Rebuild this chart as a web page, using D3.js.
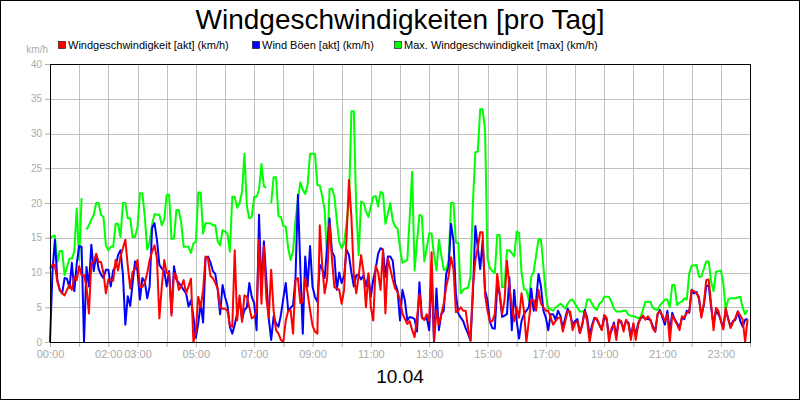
<!DOCTYPE html>
<html>
<head>
<meta charset="utf-8">
<script src="https://cdn.jsdelivr.net/npm/d3@7"></script>
<style>
  body { margin: 0; background: #fff; }
  text { font-family: "Liberation Sans", Arial, sans-serif; }
</style>
</head>
<body>
<div id="chart"></div>
<script>
// labelled hours on the x axis (ticks are drawn every hour)
var hourLabels = [0, 2, 3, 5, 7, 9, 11, 13, 15, 17, 19, 21, 23];
var yTicks = [0, 5, 10, 15, 20, 25, 30, 35, 40];
var dayLabel = "10.04";
var stepMinutes = 5;

// one value every 5 minutes, one row per hour
var windAkt = [
  10.5,11.1,11.1,8.7,7.5,7,6.7,7.5,8.2,7.5,9.4,8.9,
  10.9,9.6,9.6,8,4.1,11.3,11.5,12.7,11.5,11.5,9.9,7,
  9,8.9,8.8,11.8,10.3,12.3,13.5,14.7,11,7.7,10.1,10.5,
  11.8,7.9,7.9,8.5,9.9,11.8,13,13.9,12,3.4,8,11.8,
  9.9,10,3.8,9.9,9.5,7.5,8,8.9,7,8,9.1,0,
  1.5,6.5,5,7.5,12.3,12,9.5,9.2,8.5,7.7,5,4.8,
  4.8,4.5,2.4,2.2,13.2,3.1,6.7,2.9,6.7,6.5,5,3.4,
  3.6,4.5,14.7,5.5,13.8,6.3,3.5,10.4,4.5,1.7,1.2,0.3,
  0,3.1,4.5,4.6,1.2,8.9,9.2,5.6,5.8,9.2,7,4.6,
  2.4,1.5,1.2,16.8,11,7,9,17,12,7.9,7.7,7.5,
  5.5,7.5,15,23.3,18,9.6,7,9.5,12.5,10,5,9.9,
  5,3.1,11,10,7.5,13.3,4.1,12,10.5,9,7.7,7.2,
  6,4.1,3.3,2.6,3,1.7,0.7,3.5,6.9,3.6,3.2,4,
  3,12.9,0.2,4.5,2.5,4,5.5,7.9,9.5,12.2,10.5,4.3,
  4.5,5,4.5,4.5,2,0.2,8,11.7,13.6,15.8,15.8,6.7,
  4.5,2.9,3,4,9.8,7,4,6,11.7,8,5,3,
  5,3.5,7,4.5,0,3,6,6,4.5,7.5,5.5,5,
  4.5,4.5,3.5,2.5,3,3.5,3.5,1.5,3,4.5,4.4,1.7,
  2.7,3,1.3,2.5,4.4,3,0,2,3.4,3.4,2.5,1.7,
  3.9,3.5,0,2,2.5,0.3,3.2,3,1.5,3.2,2.5,0.3,
  2.7,0.3,2.5,3.5,3.8,3.2,3.7,3.2,2,1.5,4.1,4.4,
  3.8,3,4,0,3.8,3.2,2.5,1.7,3.7,3.5,4.2,4.4,
  7.5,7.3,7,6.5,3.5,5.5,8.9,9,5.5,1.7,4.9,4.5,
  3,1.8,4.9,3.3,2,2.8,3.5,4.4,3.8,3.2,0,3.3
];

var windBoeen = [
  0,10,14.7,9,7.5,7,9.2,9.1,7.8,11.4,7.3,11.3,
  13.8,13.7,0,10.8,8,14,10.2,12.6,10.5,9.7,9.2,10.4,
  10.4,8,10.3,10.9,12.5,13.2,9.7,2.5,6.6,5.2,8.5,11.6,
  10.2,6.1,9.2,8.7,6.3,8,16.4,17.1,14.7,11.1,10.6,10.2,
  8,10.2,4.2,10.9,9,8.5,8,7.5,7,5.1,6,3.7,
  0.6,2.7,5.5,2.8,12.1,12.3,11.5,10.2,9.8,7.5,4,8.2,
  6.5,5.3,2.2,1.2,2.5,4.1,6.3,3.2,4.6,5,8.5,6.5,
  5.6,1.7,18.3,7.5,14.5,9,3.4,0.3,3.7,2.7,2.2,3.9,
  6.3,8.5,4.5,4.9,5.3,9.2,21.2,10.6,1.2,12.3,8,13.8,
  8,6.5,5.8,11.1,10.5,9.2,13.5,17.8,13,12.3,7.5,10,
  8.5,9.5,13.3,12.5,10,8,9.6,9.6,9,9.6,8,9.6,
  6.5,9,10.5,12.7,13.5,13.3,9.4,12.3,12.3,11.7,8.4,7.4,
  3.1,7.5,6,3.1,3.6,3.5,3.3,1.5,8.6,3.5,3.2,3.5,
  1.7,10,0,7.7,1.7,4,4.5,9.8,10.8,17,14.6,6.9,
  4.1,3.5,3,2,1.2,0.2,7,16.7,13.6,10.5,14.6,7.4,
  6,2.9,2,1.9,7.9,7,3.6,3.8,4,9.3,1.7,7.5,
  3,0.5,3,4,4.5,5,7.7,4.5,6,9.8,8,4.5,
  3.5,1.7,4,4,3.2,4.5,3.8,2,3.5,4.8,4,2.5,
  3,3.3,1.3,2.5,4.6,3.5,1,2.4,3.5,3.2,2.5,1.8,
  3.5,3.3,1,1.6,2.8,0.8,3.2,2.8,2,3,2.8,0.8,
  2.5,1,2.7,3.4,3.6,3.3,3.3,3.2,2.3,1.5,4,4.6,
  3.5,2.5,4.5,1.5,4.2,3.3,2.7,2,3.5,3.3,4.5,4.2,
  7.5,7,7.2,6.2,3.8,5.3,8,8.2,5,2.5,4.5,4,
  3.2,2,4.6,3.4,2.2,3,3.2,4.4,3,2.2,3.2,3.3
];

var windMax = [
  14.9,15.2,15.3,11.5,13.1,13.1,9.6,10.8,12,12,13,19.2,
  11.8,20.7,null,16.2,16.8,17.6,18.3,20,20,18.3,18,13.9,
  13.2,13.7,13.7,17,17,15.1,20,20,17.8,17.8,15.1,15.1,
  16.6,21.4,21.4,18,13.3,14.4,16.9,18.4,18.3,18.3,16.8,17.6,
  21.2,21.2,14.8,14.9,19,19,17.1,13.7,13.7,13.7,12.8,14.2,
  14.4,21.5,21.5,15.6,17.1,17.1,17.1,16.8,16.8,14.5,13.9,16.1,
  15.9,15.6,13,20.9,20.9,19.3,20,21.6,27.1,19.5,17.8,18,
  20.9,20.9,21.9,25.6,22.4,22.2,null,20,23.7,23.7,18.1,18,
  16.7,16.6,13.5,11.8,13.1,17.5,20.4,23,21.9,21.3,22.6,27.1,
  27.1,27.1,22.6,22.5,21,19,12,22,22.1,21,17.5,14.4,
  13.5,14.2,17.1,20,33.2,33.2,19,12.5,20.2,20,18.8,18,
  19.5,20.9,21,19.5,21.6,21.4,17,18.5,20,17.5,16.6,16.3,
  13.5,11.4,11.6,11.8,18,24.5,10.3,14.5,18.3,18.1,11.6,13.5,
  15.6,15.6,12.5,10.3,14.7,12.5,10.4,10.4,11.8,20,20,14.3,
  14.2,7,7.5,7.7,7.8,9.4,20,27.3,27.4,33.5,33.5,30.5,
  12,10.6,10.2,9.9,15.4,15.4,7.9,7.9,13.2,13.2,12.8,12.3,
  15.9,15.7,10,7.6,7.5,6,9.4,10.1,12.5,14.8,14.8,10.8,
  7,4.8,4.7,4.5,5,5.2,5.5,5.2,4.8,5.5,6,6.1,
  5.5,4.9,4.4,4.4,4.4,6.1,6.1,5.5,4.9,4.6,5.5,5.8,
  6.5,6.5,6.5,5.8,4.8,4.4,4.4,4.4,4.5,4.5,3.9,3.8,
  3.7,3.6,3.4,3.6,4.7,5.8,5.8,5.8,4.9,4.7,4.6,5.3,
  5.7,6.1,6.1,5,8.2,8.2,5.3,5.7,5.8,6.3,6.1,9.9,
  11,11,11.1,9.4,9.4,10.5,11.6,11.6,8.7,7.3,10.1,10.2,
  10.3,8.5,4.6,6.1,6.3,6.3,6.3,6.4,6.5,4.9,4,4.6
];

var seriesNames = ["Windgeschwindigkeit [akt] (km/h)", "Wind Böen [akt] (km/h)", "Max. Windgeschwindigkeit [max] (km/h)"];
var seriesColors = ["#ff0000", "#0000ff", "#00ff00"];

var width = 800, height = 400;
var plot = { left: 50, right: 750, top: 64, bottom: 342 };

var svg = d3.select("#chart").append("svg")
  .attr("width", width)
  .attr("height", height);

svg.append("rect")
  .attr("x", 0.5).attr("y", 0.5)
  .attr("width", width - 1).attr("height", height - 1)
  .attr("fill", "#fff").attr("stroke", "#000");

var x = d3.scaleLinear().domain([0, 24 * 60]).range([plot.left, plot.right]);
var y = d3.scaleLinear().domain([0, 40]).range([plot.bottom, plot.top]);
var snap = function(v) { return Math.round(v) + 0.5; };

// grid
var grid = svg.append("g").attr("stroke", "#c0c0c0").attr("stroke-width", 1);
grid.selectAll(".vgrid")
  .data(d3.range(1, 24))
  .enter().append("line")
  .attr("x1", function(h) { return snap(x(h * 60)); })
  .attr("x2", function(h) { return snap(x(h * 60)); })
  .attr("y1", plot.top).attr("y2", plot.bottom);
grid.selectAll(".hgrid")
  .data(yTicks.slice(1, -1))
  .enter().append("line")
  .attr("x1", plot.left).attr("x2", plot.right)
  .attr("y1", function(d) { return snap(y(d)); })
  .attr("y2", function(d) { return snap(y(d)); });

// axes (gray ticks and labels)
var xAxis = d3.axisBottom(x)
  .tickValues(d3.range(0, 25).map(function(h) { return h * 60; }))
  .tickSize(5)
  .tickFormat(function(m) {
    var h = m / 60;
    return hourLabels.indexOf(h) >= 0 ? (h < 10 ? "0" : "") + h + ":00" : "";
  });
var gx = svg.append("g")
  .attr("transform", "translate(0," + plot.bottom + ")")
  .call(xAxis);
gx.select(".domain").remove();
gx.selectAll("line").attr("stroke", "#b0b0b0");
gx.selectAll("text").attr("fill", "#aaaaaa").attr("font-size", "11px")
  .attr("font-family", "Liberation Sans, Arial, sans-serif");

var yAxis = d3.axisLeft(y).tickValues(yTicks).tickSize(5);
var gy = svg.append("g")
  .attr("transform", "translate(" + plot.left + ",0)")
  .call(yAxis);
gy.select(".domain").remove();
gy.selectAll("line").attr("stroke", "#b0b0b0");
gy.selectAll("text").attr("fill", "#aaaaaa").attr("font-size", "10px")
  .attr("font-family", "Liberation Sans, Arial, sans-serif");

svg.append("text")
  .attr("x", 48).attr("y", 53)
  .attr("text-anchor", "end")
  .attr("font-size", "10px")
  .attr("fill", "#aaaaaa")
  .text("km/h");

// lines
function toPoints(arr) {
  return arr.map(function(v, i) { return { t: i * stepMinutes, v: v }; });
}
var line = d3.line()
  .defined(function(d) { return d.v !== null; })
  .x(function(d) { return x(d.t); })
  .y(function(d) { return y(d.v); });

var drawOrder = [[windMax, seriesColors[2]], [windBoeen, seriesColors[1]], [windAkt, seriesColors[0]]];
drawOrder.forEach(function(s) {
  svg.append("path")
    .datum(toPoints(s[0]))
    .attr("fill", "none")
    .attr("stroke", s[1])
    .attr("stroke-width", 2)
    .attr("stroke-linejoin", "round")
    .attr("d", line);
});

// plot frame
svg.append("rect")
  .attr("x", plot.left + 0.5).attr("y", plot.top + 0.5)
  .attr("width", plot.right - plot.left).attr("height", plot.bottom - plot.top)
  .attr("fill", "none").attr("stroke", "#000").attr("stroke-width", 1);

// title
svg.append("text")
  .attr("x", width / 2).attr("y", 29)
  .attr("text-anchor", "middle")
  .attr("font-size", "28px")
  .attr("fill", "#000")
  .text("Windgeschwindigkeiten [pro Tag]");

// legend
var legendX = [58, 252, 394];
var legend = svg.append("g");
seriesNames.forEach(function(name, i) {
  legend.append("rect")
    .attr("x", legendX[i] + 0.5).attr("y", 41.5)
    .attr("width", 7).attr("height", 7)
    .attr("fill", seriesColors[i])
    .attr("stroke", "#000").attr("stroke-width", 0.6);
  legend.append("text")
    .attr("x", legendX[i] + 10).attr("y", 49)
    .attr("font-size", "11px")
    .attr("fill", "#000")
    .text(name);
});

// day label
svg.append("text")
  .attr("x", width / 2).attr("y", 383)
  .attr("text-anchor", "middle")
  .attr("font-size", "19px")
  .attr("fill", "#000")
  .text(dayLabel);
</script>
</body>
</html>
